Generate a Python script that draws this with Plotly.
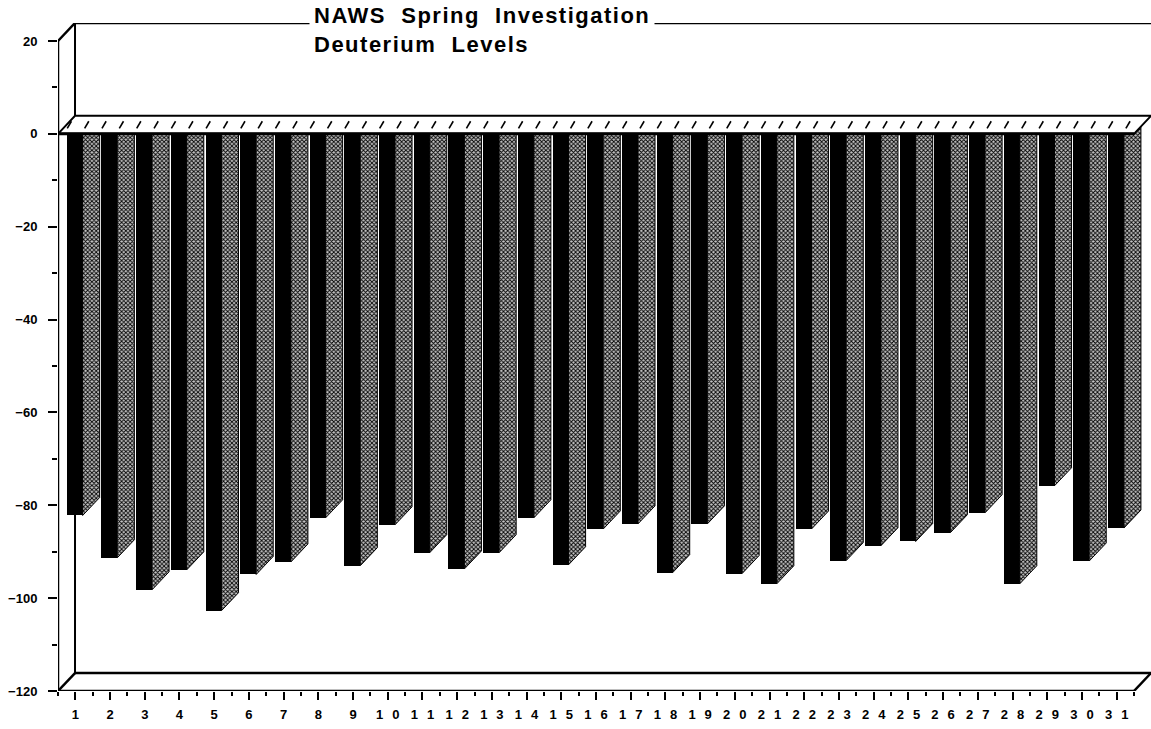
import plotly.graph_objects as go

# ---------------- data ----------------
categories = list(range(1, 32))
tick_labels = [str(c) for c in categories]
values = [-82.2, -91.3, -98.2, -93.9, -102.7, -94.9, -92.2, -82.7, -93.0, -84.2,
          -90.2, -93.7, -90.2, -82.7, -92.8, -85.1, -84.0, -94.5, -84.0, -94.7,
          -96.9, -85.1, -91.9, -88.7, -87.8, -85.9, -81.6, -96.9, -75.8, -92.0,
          -84.9]
y_ticks = [-120, -100, -80, -60, -40, -20, 0, 20]
y_minor = [-110, -90, -70, -50, -30, -10, 10]
title_line1 = "NAWS  Spring  Investigation"
title_line2 = "Deuterium  Levels"

# ---------------- geometry / style ----------------
DX = 0.49      # 3-D depth in category units
DY = 3.87      # 3-D depth in value units
FRONT_OFF = -0.25
FRONT_W = 0.46
Y_MIN, Y_MAX = -120, 20
X_MIN, X_MAX = 0.5, len(categories) + 0.5
FONT = "Liberation Sans, Arial, sans-serif"

fig = go.Figure()

# front faces of bars
fig.add_trace(go.Bar(
    x=categories, y=values, width=FRONT_W, offset=FRONT_OFF,
    marker=dict(color="black", line=dict(width=0)),
    hoverinfo="x+y", showlegend=False))

# side faces of bars (depth)
sx, sy = [], []
for c, v in zip(categories, values):
    xr = c + FRONT_OFF + FRONT_W
    sx += [xr, xr + DX, xr + DX, xr, xr, None]
    sy += [0, DY, v + DY, v, 0, None]
fig.add_trace(go.Scatter(
    x=sx, y=sy, mode="lines", fill="toself",
    fillcolor="#8a8a8a",
    fillpattern=dict(shape="x", size=3, solidity=0.5,
                     fgcolor="#000000", bgcolor="#c4c4c4"),
    line=dict(color="black", width=1), hoverinfo="skip", showlegend=False))

# zero slab (top face at value 0)
fig.add_trace(go.Scatter(
    x=[X_MIN, X_MAX, X_MAX + DX, X_MIN + DX, X_MIN],
    y=[0, 0, DY, DY, 0], mode="lines", fill="toself", fillcolor="white",
    line=dict(color="black", width=2), hoverinfo="skip", showlegend=False))

# slab hatch marks
hx, hy = [], []
for c in categories:
    for k in (0, 1):
        x0 = c - 0.5 + 0.3 * DX + 0.12 + k * 0.5
        hx += [x0, x0 + 0.12, None]
        hy += [0.3 * DY, 0.7 * DY, None]
fig.add_trace(go.Scatter(
    x=hx, y=hy, mode="lines", line=dict(color="black", width=1.6),
    hoverinfo="skip", showlegend=False))

# frame lines
def seg(x0, y0, x1, y1, w=2.5, layer="above"):
    fig.add_shape(type="line", xref="x", yref="y", x0=x0, y0=y0, x1=x1, y1=y1,
                  line=dict(color="black", width=w), layer=layer)

# back wall
seg(X_MIN + DX, Y_MIN + DY, X_MIN + DX, Y_MAX + DY, 2, "below")
seg(X_MIN + DX, Y_MAX + DY, X_MAX + DX, Y_MAX + DY, 2.5)
seg(X_MIN + DX, Y_MIN + DY, X_MAX + DX, Y_MIN + DY, 2.5)
# front y axis and top-left diagonal
seg(X_MIN, Y_MIN, X_MIN, Y_MAX, 2.5)
seg(X_MIN, Y_MAX, X_MIN + DX, Y_MAX + DY, 2.5)
# floor
seg(X_MIN, Y_MIN, X_MAX, Y_MIN, 2.5)
seg(X_MIN, Y_MIN, X_MIN + DX, Y_MIN + DY, 2.5)
seg(X_MAX, Y_MIN, X_MAX + DX, Y_MIN + DY, 2.5)
# zero line front edge
seg(X_MIN, 0, X_MAX, 0, 3)

spaced_labels = [
    t if len(t) == 1 else
    "<span style='letter-spacing:9px'>" + t[0] + "</span>" + t[1:]
    for t in tick_labels
]

tickfont = dict(family=FONT, size=13, color="black", weight="bold")

fig.update_layout(
    template="none",
    width=1151, height=729,
    margin=dict(l=57.5, r=0, t=22.5, b=37.5, pad=0),
    paper_bgcolor="white", plot_bgcolor="white",
    showlegend=False,
    bargap=0,
    xaxis=dict(
        range=[X_MIN, X_MAX + DX], tickmode="array",
        tickvals=categories, ticktext=spaced_labels,
        ticks="outside", ticklen=8, tickwidth=2, tickcolor="black",
        minor=dict(tickmode="array", tickvals=[c - 0.5 for c in categories] + [X_MAX],
                   ticks="outside", ticklen=4, tickwidth=2, tickcolor="black"),
        showgrid=False, zeroline=False, showline=False,
        tickfont=tickfont, ticklabelstandoff=3, automargin=False),
    yaxis=dict(
        range=[Y_MIN, Y_MAX + DY], tickmode="array", tickvals=y_ticks,
        ticks="outside", ticklen=9, tickwidth=2, tickcolor="black",
        minor=dict(tickmode="array", tickvals=y_minor,
                   ticks="outside", ticklen=5, tickwidth=2, tickcolor="black"),
        showgrid=False, zeroline=False, showline=False,
        tickfont=tickfont, ticklabelstandoff=8, automargin=False),
    annotations=[dict(
        xref="paper", yref="paper", x=(309 - 57.5) / 1093.5, y=1.038,
        xanchor="left", yanchor="top", align="left", showarrow=False,
        bgcolor="white", borderpad=4,
        text=("<span style='letter-spacing:1.5px;white-space:pre'>" + title_line1 + "</span><br>"
              "<span style='letter-spacing:1.5px;white-space:pre'>" + title_line2 + "</span>"),
        font=dict(family=FONT, size=22, color="black", weight="bold"))],
)

fig.write_html(
    "out.html",
    config={"displayModeBar": False},
    post_script="document.body.style.margin='0';document.body.style.overflow='hidden';",
)
